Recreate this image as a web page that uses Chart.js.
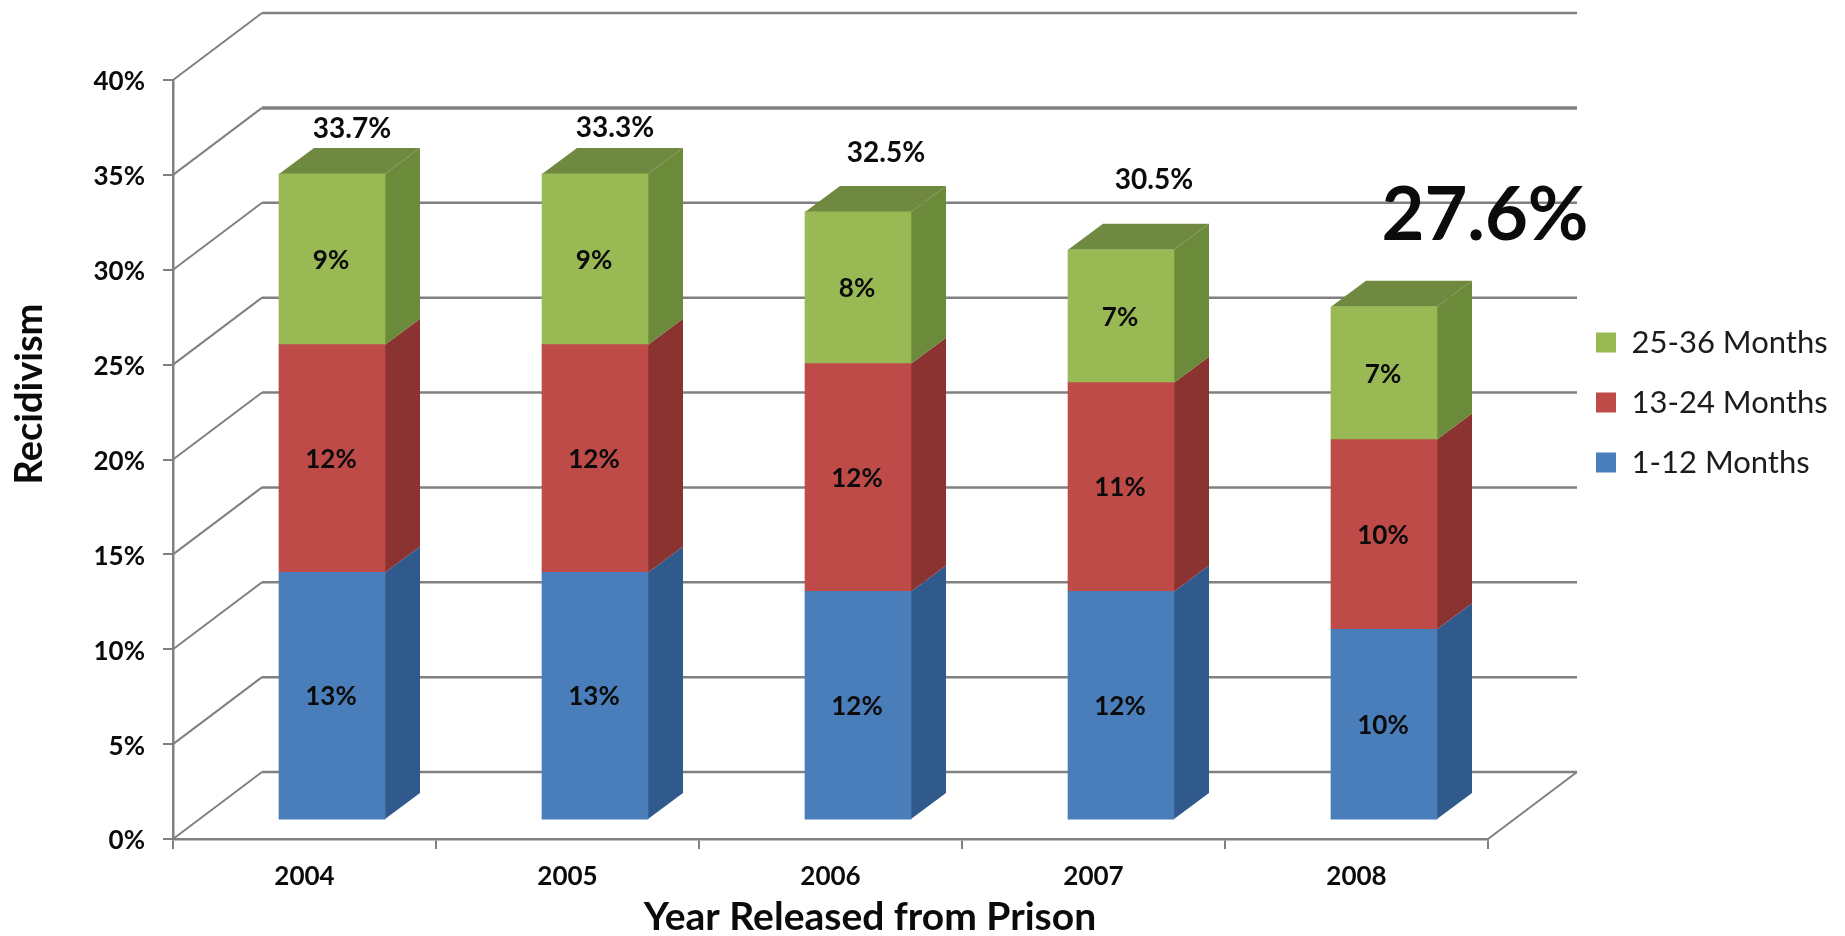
<!DOCTYPE html>
<html>
<head>
<meta charset="utf-8">
<title>Recidivism</title>
<script src="https://cdn.jsdelivr.net/npm/chart.js@4/dist/chart.umd.min.js"></script>
<style>
  html, body { margin: 0; padding: 0; background: #fff; }
  canvas { display: block; }
</style>
</head>
<body>
<canvas id="myChart" width="1845" height="936"></canvas>
<script>
const years = ['2004', '2005', '2006', '2007', '2008'];
const months1to12 = [13, 13, 12, 12, 10];
const months13to24 = [12, 12, 12, 11, 10];
const months25to36 = [9, 9, 8, 7, 7];
const totalLabels = ['33.7%', '33.3%', '32.5%', '30.5%', '27.6%'];
const seriesNames = ['1-12 Months', '13-24 Months', '25-36 Months'];

const FONT = 'Lato, Carlito, sans-serif';

// depth of the fake 3D box
const wallDx = 89, wallDy = 67;   // plot floor
const barDx = 35, barDy = 26;     // bar depth
const barLift = 1.05;             // bars float above the axis, in axis units
const barShift = 27.5 / 263;      // bars sit right of the category centre

const sideColors = ['#315a8c', '#8a3331', '#6b8a3a'];
const topColor = '#6f8a40';
const lineColor = '#808080';

// where the total labels sit relative to the top of each bar [dx, y]
const totalPos = [[20, 129], [20, 128], [28, 153], [33, 180], [101, 216]];

const box3d = {
  id: 'box3d',
  afterLayout(chart) {
    // the legend sits beside the plot, not centred on it
    const lg = chart.legend;
    const h = lg.bottom - lg.top;
    lg.left = 1596 - lg.options.labels.padding;
    lg.right = lg.left + lg.width;
    lg.top = 298;
    lg.bottom = lg.top + h;
  },
  beforeDatasetsDraw(chart) {
    const { ctx, scales } = chart;
    const y = scales.y, x = scales.x;
    ctx.save();
    ctx.strokeStyle = lineColor;
    y.ticks.forEach(t => {
      const py = y.getPixelForValue(t.value);
      ctx.lineWidth = 2;
      ctx.beginPath();
      ctx.moveTo(x.left, py);
      ctx.lineTo(x.left + wallDx, py - wallDy);
      ctx.stroke();
      ctx.lineWidth = t.value === 35 ? 3.5 : 2.5;
      ctx.beginPath();
      ctx.moveTo(x.left + wallDx, py - wallDy);
      ctx.lineTo(x.right + wallDx, py - wallDy);
      ctx.stroke();
    });
    // right edge of the floor
    ctx.lineWidth = 2;
    ctx.beginPath();
    ctx.moveTo(x.right, y.bottom);
    ctx.lineTo(x.right + wallDx, y.bottom - wallDy);
    ctx.stroke();

    // sides and tops of the bars
    chart.data.datasets.forEach((ds, di) => {
      chart.getDatasetMeta(di).data.forEach(bar => {
        const r = bar.x + bar.width / 2, l = bar.x - bar.width / 2;
        ctx.fillStyle = sideColors[di];
        ctx.beginPath();
        ctx.moveTo(r, bar.y);
        ctx.lineTo(r + barDx, bar.y - barDy);
        ctx.lineTo(r + barDx, bar.base - barDy);
        ctx.lineTo(r, bar.base);
        ctx.closePath();
        ctx.fill();
        if (di === chart.data.datasets.length - 1) {
          ctx.fillStyle = topColor;
          ctx.beginPath();
          ctx.moveTo(l, bar.y);
          ctx.lineTo(l + barDx, bar.y - barDy);
          ctx.lineTo(r + barDx, bar.y - barDy);
          ctx.lineTo(r, bar.y);
          ctx.closePath();
          ctx.fill();
        }
      });
    });
    ctx.restore();
  },
  afterDatasetsDraw(chart) {
    const { ctx } = chart;
    ctx.save();
    ctx.textAlign = 'center';
    ctx.textBaseline = 'middle';
    ctx.fillStyle = '#0b0b0b';

    // value in the middle of each segment
    ctx.font = 'bold 26px ' + FONT;
    chart.data.datasets.forEach((ds, di) => {
      chart.getDatasetMeta(di).data.forEach((bar, i) => {
        ctx.fillText(ds.data[i].y + '%', bar.x - 1, (bar.y + bar.base) / 2 + 1);
      });
    });

    // totals above the bars, the last one is the big one
    const barsTop = chart.getDatasetMeta(2).data;
    totalLabels.forEach((label, i) => {
      ctx.font = i === 4 ? 'bold 74px ' + FONT : 'bold 28px ' + FONT;
      ctx.fillText(label, barsTop[i].x + totalPos[i][0], totalPos[i][1]);
    });

    // axis titles
    ctx.font = 'bold 39px ' + FONT;
    ctx.fillText('Year Released from Prison', 870, 917);
    ctx.translate(30, 394);
    ctx.rotate(-Math.PI / 2);
    ctx.font = 'bold 38px ' + FONT;
    ctx.fillText('Recidivism', 0, 0);
    ctx.restore();
  }
};

const ctx = document.getElementById('myChart').getContext('2d');
const toPoints = values => values.map((v, i) => ({ x: i, y: v }));

new Chart(ctx, {
  type: 'bar',
  data: {
    labels: years,
    datasets: [
      { label: seriesNames[0], data: toPoints(months1to12), backgroundColor: '#4a7ebb', xAxisID: 'xBars', yAxisID: 'yBars' },
      { label: seriesNames[1], data: toPoints(months13to24), backgroundColor: '#be4b48', xAxisID: 'xBars', yAxisID: 'yBars' },
      { label: seriesNames[2], data: toPoints(months25to36), backgroundColor: '#98b954', xAxisID: 'xBars', yAxisID: 'yBars' }
    ]
  },
  options: {
    responsive: false,
    animation: false,
    barThickness: 106,
    layout: { padding: { top: 80, right: 357, left: 0, bottom: 0 } },
    plugins: {
      tooltip: { enabled: false },
      legend: {
        position: 'chartArea',
        align: 'start',
        reverse: true,
        labels: {
          boxWidth: 20,
          boxHeight: 20,
          padding: 29,
          color: '#1c1c1c',
          font: { family: FONT, size: 31 }
        }
      }
    },
    scales: {
      x: {
        type: 'category',
        offset: true,
        afterFit: s => { s.height = 97; },
        grid: { offset: true, drawOnChartArea: false, color: lineColor, tickLength: 10, lineWidth: 2 },
        border: { color: lineColor, width: 2.5 },
        ticks: { color: '#0b0b0b', padding: 12, maxRotation: 0, font: { family: FONT, size: 26, weight: 'bold' } }
      },
      y: {
        type: 'linear',
        position: 'left',
        min: 0,
        max: 40,
        afterFit: s => { s.width = 173; },
        grid: { drawOnChartArea: false, color: lineColor, tickLength: 10, lineWidth: 2 },
        border: { color: lineColor, width: 2.5 },
        ticks: { stepSize: 5, color: '#0b0b0b', padding: 18, labelOffset: 2, callback: v => v + '%', font: { family: FONT, size: 26, weight: 'bold' } }
      },
      xBars: {
        type: 'linear',
        display: false,
        offset: false,
        stacked: true,
        min: -0.5 - barShift,
        max: 4.5 - barShift,
        grid: { offset: false }
      },
      yBars: {
        type: 'linear',
        display: false,
        stacked: true,
        min: -barLift,
        max: 40 - barLift
      }
    }
  },
  plugins: [box3d]
});
</script>
</body>
</html>
